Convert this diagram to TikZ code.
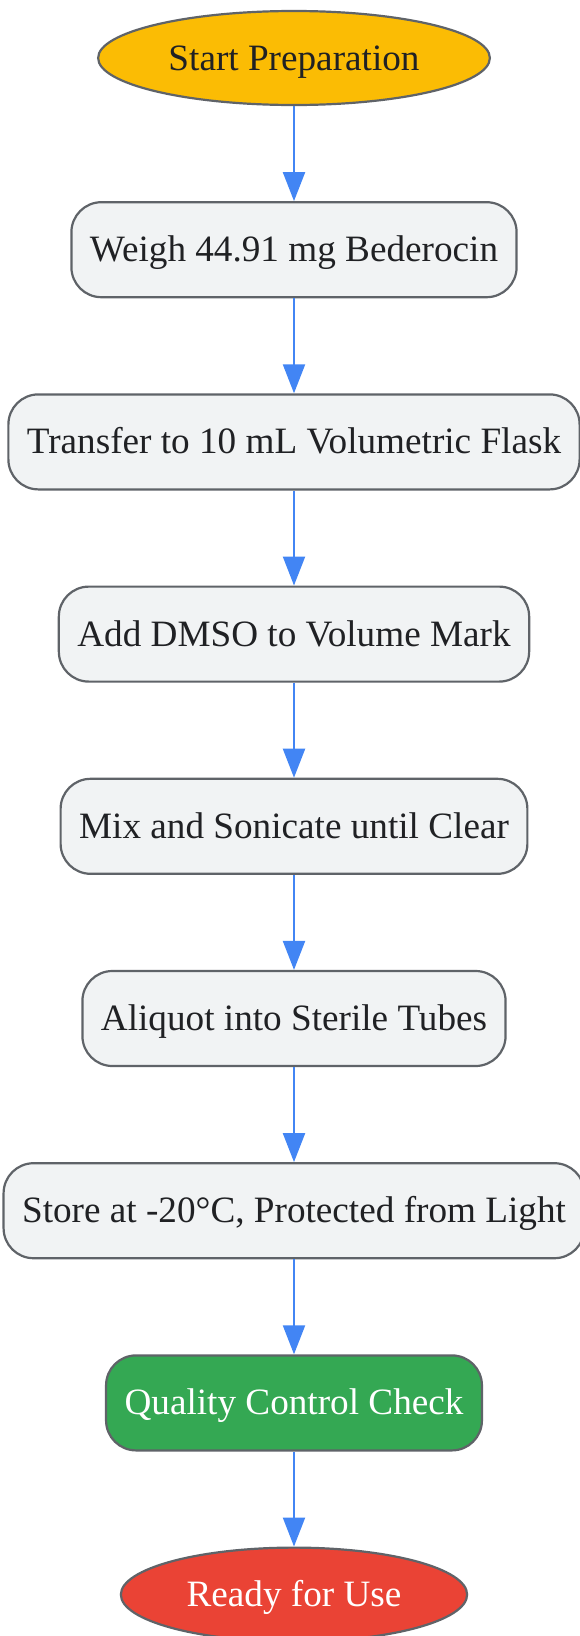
\documentclass[tikz,border=0pt]{standalone}
\usepackage{fontspec}
\setmainfont{Liberation Serif}
\usepackage{tikz}
\usetikzlibrary{positioning, arrows.meta, shapes.geometric}
\definecolor{amarillo}{HTML}{FBBC04}
\definecolor{verde}{HTML}{34A853}
\definecolor{rojo}{HTML}{EA4335}
\definecolor{azul}{HTML}{4285F4}
\definecolor{gris}{HTML}{5F6368}
\definecolor{claro}{HTML}{F1F3F4}
\definecolor{tinta}{HTML}{202124}
\tikzset{
    base/.style={draw=gris, line width=2.2pt, font=\fontsize{37.2}{44}\selectfont, text=tinta,
        text height=24pt, text depth=0pt},
    startnode/.style={base, ellipse, fill=amarillo, inner xsep=13pt, minimum height=94pt},
    stepbox/.style={base, rectangle, rounded corners=30pt, fill=claro, inner xsep=18.5pt, minimum height=95pt},
    qcbox/.style={stepbox, fill=verde, text=white},
    endnode/.style={startnode, fill=rojo, text=white, inner xsep=15pt},
    conn/.style={-{Triangle[width=22pt,length=29pt]}, azul, line width=2.2pt},
}

\begin{document}
\begin{tikzpicture}[node distance=95pt]
        \useasboundingbox (0pt,0pt) rectangle (580pt,-1636pt);

        \node [startnode] (start) at (294pt,-58pt) {Start Preparation};
        \node [stepbox, below=of start] (weigh) {Weigh 44.91 mg Bederocin};
        \node [stepbox, below=of weigh] (transfer) {Transfer to 10 mL Volumetric Flask};
        \node [stepbox, below=of transfer] (dmso) {Add DMSO to Volume Mark};
        \node [stepbox, below=of dmso] (mix) {Mix and Sonicate until Clear};
        \node [stepbox, below=of mix] (aliquot) {Aliquot into Sterile Tubes};
        \node [stepbox, below=of aliquot] (store) {Store at -20°C, Protected from Light};
        \node [qcbox, below=of store] (qc) {Quality Control Check};
        \node [endnode, below=of qc] (ready) {Ready for Use};

        \draw[conn] (start) -- (weigh);
        \draw[conn] (weigh) -- (transfer);
        \draw[conn] (transfer) -- (dmso);
        \draw[conn] (dmso) -- (mix);
        \draw[conn] (mix) -- (aliquot);
        \draw[conn] (aliquot) -- (store);
        \draw[conn] (store) -- (qc);
        \draw[conn] (qc) -- (ready);
\end{tikzpicture}
\end{document}
